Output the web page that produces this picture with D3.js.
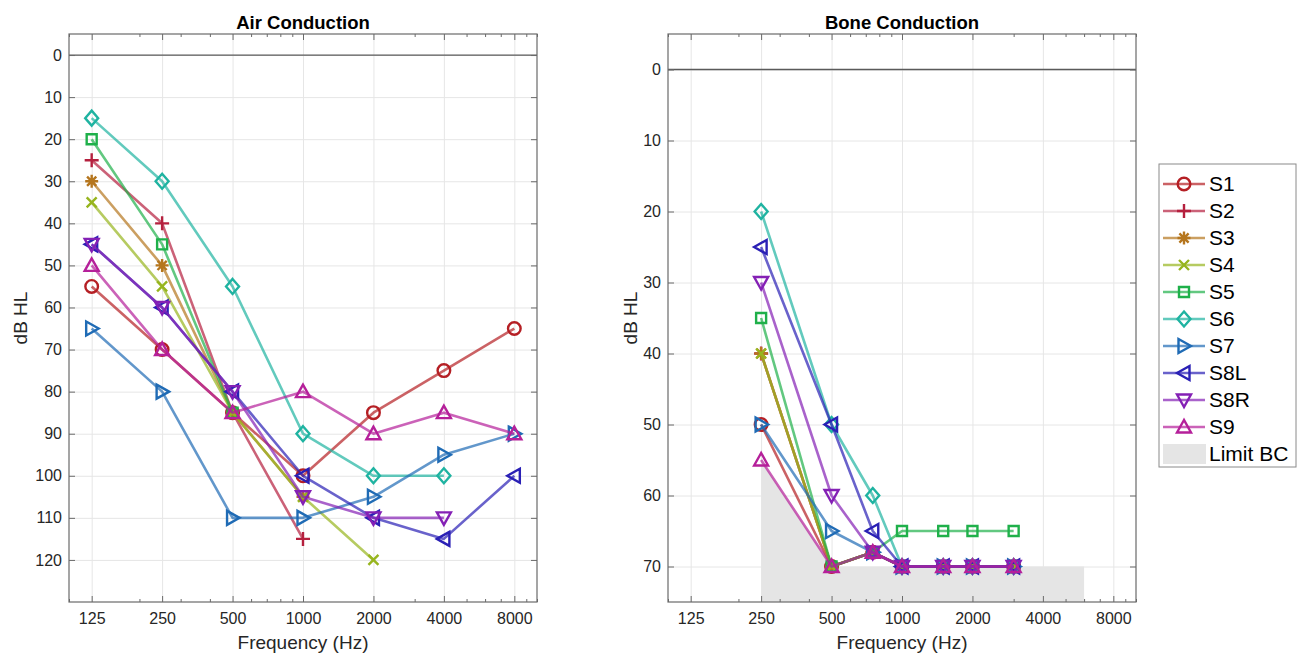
<!DOCTYPE html>
<html>
<head>
<meta charset="utf-8">
<script src="https://cdn.jsdelivr.net/npm/d3@7"></script>
<style>
  body { margin: 0; background: #fff; }
  svg { font-family: "Liberation Sans", Arial, sans-serif; }
  .tick text { fill: #262626; }
</style>
</head>
<body>
<div id="chart"></div>
<script>
'use strict';

// --- data -------------------------------------------------------------
const subjects = ['S1', 'S2', 'S3', 'S4', 'S5', 'S6', 'S7', 'S8L', 'S8R', 'S9'];
const colors = ['#b51f24', '#b5203e', '#b5761e', '#97b51e', '#1fb04a', '#1fb3a1', '#1f6bb5', '#2a20b5', '#8420b5', '#b5209a'];
const markers = ['o', '+', '*', 'x', 's', 'd', '>', '<', 'v', '^'];

const freqTicks = [125, 250, 500, 1000, 2000, 4000, 8000];

// air conduction, at 125 250 500 1000 2000 4000 8000 Hz
const airFreq = [125, 250, 500, 1000, 2000, 4000, 8000];
const airS1  = [55, 70, 85, 100, 85, 75, 65];
const airS2  = [25, 40, 85, 115, null, null, null];
const airS3  = [30, 50, 85, 105, null, null, null];
const airS4  = [35, 55, 85, 105, 120, null, null];
const airS5  = [20, 45, 85, null, null, null, null];
const airS6  = [15, 30, 55, 90, 100, 100, null];
const airS7  = [65, 80, 110, 110, 105, 95, 90];
const airS8L = [45, 60, 80, 100, 110, 115, 100];
const airS8R = [45, 60, 80, 105, 110, 110, null];
const airS9  = [50, 70, 85, 80, 90, 85, 90];

// bone conduction, at 250 500 750 1000 1500 2000 3000 Hz
const boneFreq = [250, 500, 750, 1000, 1500, 2000, 3000];
const boneS1  = [50, 70, 68, 70, 70, 70, 70];
const boneS2  = [40, 70, 68, 70, 70, 70, 70];
const boneS3  = [40, 70, 68, 70, 70, 70, 70];
const boneS4  = [40, 70, 68, 70, 70, 70, 70];
const boneS5  = [35, 70, 68, 65, 65, 65, 65];
const boneS6  = [20, 50, 60, 70, 70, 70, 70];
const boneS7  = [50, 65, 68, 70, 70, 70, 70];
const boneS8L = [25, 50, 65, 70, 70, 70, 70];
const boneS8R = [30, 60, 68, 70, 70, 70, 70];
const boneS9  = [55, 70, 68, 70, 70, 70, 70];

// bone conduction limit of the audiometer
const limitFreq  = [250, 500, 6000];
const limitLevel = [55, 70, 70];

const airSeries  = [airS1, airS2, airS3, airS4, airS5, airS6, airS7, airS8L, airS8R, airS9];
const boneSeries = [boneS1, boneS2, boneS3, boneS4, boneS5, boneS6, boneS7, boneS8L, boneS8R, boneS9];

// --- helpers ----------------------------------------------------------
const markerPath = function(m) {
    switch (m) {
        case '+': return 'M-7,0H7M0,-7V7';
        case '*': return 'M-6.5,0H6.5M0,-6.5V6.5M-4.6,-4.6L4.6,4.6M-4.6,4.6L4.6,-4.6';
        case 'x': return 'M-5,-5L5,5M-5,5L5,-5';
        case 's': return 'M-5,-5H5V5H-5Z';
        case 'd': return 'M0,-7.5L6.5,0L0,7.5L-6.5,0Z';
        case '>': return 'M7,0L-5.5,-7L-5.5,7Z';
        case '<': return 'M-7,0L5.5,-7L5.5,7Z';
        case 'v': return 'M0,7L-7,-5.5L7,-5.5Z';
        case '^': return 'M0,-7L-7,5.5L7,5.5Z';
        default:  return 'M6.3,0A6.3,6.3 0 1,1 -6.3,0A6.3,6.3 0 1,1 6.3,0Z';
    }
};

const W = 1300, H = 655;
const svg = d3.select('#chart').append('svg').attr('width', W).attr('height', H);

const plotTop = 34, plotBottom = 602;

const drawPanel = function(opt) {
    const x = d3.scaleLog().domain([100, 10000]).range([opt.left, opt.right]);
    const y = d3.scaleLinear().domain(opt.ydomain).range([plotTop, plotBottom]);
    const g = svg.append('g');
    const plotW = opt.right - opt.left, plotH = plotBottom - plotTop;
    const axisGray = '#6a6a6a';

    // grid
    g.append('g').attr('transform', `translate(0,${plotBottom})`)
        .call(d3.axisBottom(x).tickValues(freqTicks).tickSize(-plotH).tickFormat(''))
        .call(a => { a.select('.domain').remove(); a.selectAll('line').attr('stroke', '#e6e6e6'); });
    g.append('g').attr('transform', `translate(${opt.left},0)`)
        .call(d3.axisLeft(y).tickValues(opt.yticks).tickSize(-plotW).tickFormat(''))
        .call(a => { a.select('.domain').remove(); a.selectAll('line').attr('stroke', '#e6e6e6'); });

    // limit area
    if (opt.limit) {
        const area = d3.area()
            .x((d, i) => x(limitFreq[i]))
            .y0(y(opt.ydomain[1]))
            .y1(d => y(d));
        g.append('path').datum(limitLevel).attr('d', area).attr('fill', '#e5e5e5');
    }

    // 0 dB reference
    g.append('line')
        .attr('x1', opt.left).attr('x2', opt.right)
        .attr('y1', y(0)).attr('y2', y(0))
        .attr('stroke', '#5a5a5a').attr('stroke-width', 1.3);

    // series
    opt.series.forEach(function(vals, k) {
        const pts = vals.map((v, i) => ({ f: opt.freq[i], v: v })).filter(d => d.v !== null);
        const line = d3.line().x(d => x(d.f)).y(d => y(d.v));
        g.append('path').datum(pts).attr('d', line)
            .attr('fill', 'none').attr('stroke', colors[k]).attr('stroke-opacity', 0.7)
            .attr('stroke-width', 2.6).attr('stroke-linejoin', 'round');
        g.selectAll(null).data(pts).enter().append('path')
            .attr('transform', d => `translate(${x(d.f)},${y(d.v)})`)
            .attr('d', markerPath(markers[k]))
            .attr('fill', 'none').attr('stroke', colors[k]).attr('stroke-width', 2.4);
    });

    // ticks: bottom / top major, minor
    const minor = [];
    [100, 1000].forEach(b => { for (let m = 1; m < 10; m++) minor.push(b * m); });
    minor.push(10000);
    const minorOnly = minor.filter(v => !freqTicks.includes(v));

    const bx = g.append('g').attr('transform', `translate(0,${plotBottom})`)
        .call(d3.axisBottom(x).tickValues(freqTicks).tickFormat(d3.format('d')).tickSizeInner(-6).tickSizeOuter(0).tickPadding(11));
    bx.select('.domain').remove();
    bx.selectAll('line').attr('stroke', axisGray);
    bx.selectAll('text').style('font-size', '16px');

    g.append('g').attr('transform', `translate(0,${plotBottom})`)
        .call(d3.axisBottom(x).tickValues(minorOnly).tickFormat('').tickSizeInner(-3).tickSizeOuter(0))
        .call(a => { a.select('.domain').remove(); a.selectAll('line').attr('stroke', axisGray); });
    g.append('g').attr('transform', `translate(0,${plotTop})`)
        .call(d3.axisTop(x).tickValues(freqTicks).tickFormat('').tickSizeInner(-6).tickSizeOuter(0))
        .call(a => { a.select('.domain').remove(); a.selectAll('line').attr('stroke', axisGray); });
    g.append('g').attr('transform', `translate(0,${plotTop})`)
        .call(d3.axisTop(x).tickValues(minorOnly).tickFormat('').tickSizeInner(-3).tickSizeOuter(0))
        .call(a => { a.select('.domain').remove(); a.selectAll('line').attr('stroke', axisGray); });

    const ly = g.append('g').attr('transform', `translate(${opt.left},0)`)
        .call(d3.axisLeft(y).tickValues(opt.yticks).tickSizeInner(-6).tickSizeOuter(0).tickPadding(7));
    ly.select('.domain').remove();
    ly.selectAll('line').attr('stroke', axisGray);
    ly.selectAll('text').style('font-size', '16px');
    g.append('g').attr('transform', `translate(${opt.right},0)`)
        .call(d3.axisRight(y).tickValues(opt.yticks).tickFormat('').tickSizeInner(-6).tickSizeOuter(0))
        .call(a => { a.select('.domain').remove(); a.selectAll('line').attr('stroke', axisGray); });

    // box
    g.append('rect').attr('x', opt.left).attr('y', plotTop).attr('width', plotW).attr('height', plotH)
        .attr('fill', 'none').attr('stroke', axisGray).attr('stroke-width', 1.2);

    // labels
    g.append('text').attr('x', (opt.left + opt.right) / 2).attr('y', 29)
        .attr('text-anchor', 'middle').style('font-size', '18.5px').style('font-weight', 'bold')
        .attr('fill', '#000').text(opt.title);
    g.append('text').attr('x', (opt.left + opt.right) / 2).attr('y', 649)
        .attr('text-anchor', 'middle').style('font-size', '19px').attr('fill', '#262626')
        .text('Frequency (Hz)');
    g.append('text').attr('transform', `translate(${opt.ylabelX},${(plotTop + plotBottom) / 2}) rotate(-90)`)
        .attr('text-anchor', 'middle').attr('dy', '0.35em').style('font-size', '19px').attr('fill', '#262626')
        .text('dB HL');
};

drawPanel({
    left: 69, right: 537, ydomain: [-5, 130], yticks: d3.range(0, 121, 10),
    freq: airFreq, series: airSeries, title: 'Air Conduction', ylabelX: 20, limit: false
});
drawPanel({
    left: 668, right: 1136, ydomain: [-5, 75], yticks: d3.range(0, 71, 10),
    freq: boneFreq, series: boneSeries, title: 'Bone Conduction', ylabelX: 630, limit: true
});

// legend
const legend = svg.append('g').attr('class', 'legend');
legend.append('rect').attr('x', 1159).attr('y', 164).attr('width', 137).attr('height', 303)
    .attr('fill', '#fff').attr('stroke', '#8a8a8a').attr('stroke-width', 1);
const rowY = i => 184 + i * 27;
const entry = legend.selectAll('.legendLabel').data(subjects).enter().append('g').attr('class', 'legendLabel');
entry.append('line').attr('x1', 1163).attr('x2', 1205)
    .attr('y1', (d, i) => rowY(i)).attr('y2', (d, i) => rowY(i))
    .attr('stroke', (d, i) => colors[i]).attr('stroke-opacity', 0.7).attr('stroke-width', 2.6);
entry.append('path').attr('transform', (d, i) => `translate(1184,${rowY(i)})`)
    .attr('d', (d, i) => markerPath(markers[i]))
    .attr('fill', 'none').attr('stroke', (d, i) => colors[i]).attr('stroke-width', 2.4);
entry.append('text').attr('x', 1209).attr('y', (d, i) => rowY(i)).attr('dy', '0.35em')
    .style('font-size', '21px').attr('fill', '#000').text(d => d);
legend.append('rect').attr('x', 1163).attr('y', rowY(10) - 10).attr('width', 43).attr('height', 20).attr('fill', '#e5e5e5');
legend.append('text').attr('x', 1209).attr('y', rowY(10)).attr('dy', '0.35em')
    .style('font-size', '21px').attr('fill', '#000').text('Limit BC');
</script>
</body>
</html>
